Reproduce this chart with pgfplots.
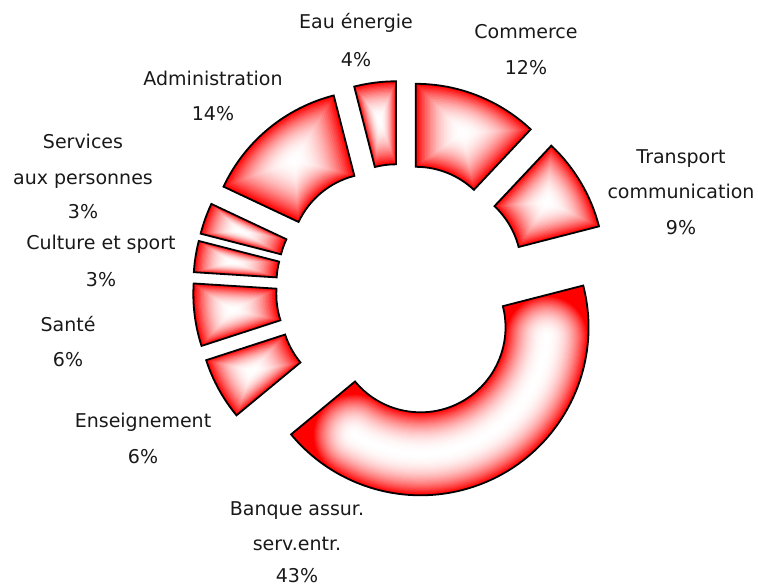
\documentclass[border=0pt]{standalone}
\usepackage{pgfplots}
\pgfplotsset{compat=1.18}
\usepackage{pgfplotstable}
\usepackage{fontspec}
\setmainfont{DejaVu Sans}
\pgfplotstableread{
value explode
12 40
9 41
43 43
6 40
6 40
3 40
3 40
14 40
4 40
}\sectors
\newcommand\lbl{\fontsize{19}{23}\selectfont}
% wedge path: apex (#1,#2), start angle #3, end angle #4, outer R #5, inner r #6, R-r #7
\newcommand\wedgepath[7]{(axis cs:#1,#2) ++(#3:#6pt) -- ++(#3:#7pt) arc[start angle=#3,end angle=#4,radius=#5pt] -- ++(#4:-#7pt) arc[start angle=#4,end angle=#3,radius=#6pt] -- cycle}
\begin{document}
\begin{tikzpicture}
\begin{axis}[width=758pt, height=587pt, scale only axis,
  xmin=0, xmax=758, ymin=0, ymax=587, hide axis, clip=false]
\addplot[draw=none] table[x expr=\coordindex, y=value] {\sectors};
\coordinate (ll) at (axis cs:0,0);
\coordinate (ur) at (axis cs:758,587);
\pgfplotsextra{
  \gdef\cum{0}
  \foreach \i in {0,...,8} {
    \pgfplotstablegetelem{\i}{value}\of\sectors \let\v\pgfplotsretval
    \pgfplotstablegetelem{\i}{explode}\of\sectors \let\d\pgfplotsretval
    \pgfmathsetmacro\aA{90-3.6*\cum}
    \pgfmathsetmacro\aB{\aA-3.6*\v}
    \pgfmathsetmacro\am{(\aA+\aB)/2}
    \pgfmathsetmacro\Ax{401+\d*cos(\am)}
    \pgfmathsetmacro\Ay{298+\d*sin(\am)}
    \pgfmathsetmacro\half{1.8*\v}
    \pgfmathsetmacro\rhoc{2/3*(1.68*1.68+1.68*0.85+0.85*0.85)/(1.68+0.85)*100*sin(\half)/rad(\half)}
    \pgfmathsetmacro\Gx{\Ax+\rhoc*cos(\am)}
    \pgfmathsetmacro\Gy{\Ay+\rhoc*sin(\am)}
    \begin{scope}
    \clip \wedgepath{\Ax}{\Ay}{\aA}{\aB}{168}{85}{83};
    \fill[red] (axis cs:0,0) rectangle (axis cs:758,587);
    \ifnum\i=2
      \pgfmathsetmacro\aAe{\aA-18.8}
      \pgfmathsetmacro\aBe{\aB+18.8}
      \foreach \k in {0,...,39} {
        \pgfmathsetmacro\s{1-\k/40}
        \pgfmathsetmacro\w{83*\s}
        \pgfmathsetmacro\pct{100*\s^2.2}
        \draw[line width=\w pt, red!\pct!white, line cap=round]
          (axis cs:\Ax,\Ay) ++(\aAe:126.5pt) arc[start angle=\aAe, end angle=\aBe, radius=126.5pt];
      }
    \else
    \foreach \k in {0,...,29} {
      \pgfmathsetmacro\s{1-\k/30}
      \pgfmathsetmacro\px{\Gx+\s*(\Ax-\Gx)}
      \pgfmathsetmacro\py{\Gy+\s*(\Ay-\Gy)}
      \pgfmathsetmacro\RR{\s*168}
      \pgfmathsetmacro\rr{\s*85}
      \pgfmathsetmacro\dd{\s*83}
      \pgfmathsetmacro\pct{100*\s^2.2}
      \fill[red!\pct!white] \wedgepath{\px}{\py}{\aA}{\aB}{\RR}{\rr}{\dd};
    }
    \fi
    \end{scope}
    \draw[line width=1.8pt, black, line join=miter] \wedgepath{\Ax}{\Ay}{\aA}{\aB}{168}{85}{83};
    \pgfmathsetmacro\newcum{\cum+\v}
    \xdef\cum{\newcum}
  }
}
\begin{scope}[every node/.style={anchor=base, font=\lbl, text=black!90, inner sep=0pt}]
\node at (axis cs:356,558) {Eau énergie};
\node at (axis cs:356,520) {4\%};
\node at (axis cs:526,548) {Commerce};
\node at (axis cs:526,512) {12\%};
\node at (axis cs:213,501) {Administration};
\node at (axis cs:213,466) {14\%};
\node at (axis cs:681,423) {Transport};
\node at (axis cs:681,388) {communication};
\node at (axis cs:681,352) {9\%};
\node at (axis cs:83,438) {Services};
\node at (axis cs:83,402) {aux personnes};
\node at (axis cs:83,368) {3\%};
\node at (axis cs:101,337) {Culture et sport};
\node at (axis cs:101,300) {3\%};
\node at (axis cs:68,255) {Santé};
\node at (axis cs:68,220) {6\%};
\node at (axis cs:143,160) {Enseignement};
\node at (axis cs:143,124) {6\%};
\node at (axis cs:297,72) {Banque assur.};
\node at (axis cs:297,37) {serv.entr.};
\node at (axis cs:297,5) {43\%};
\end{scope}
\end{axis}
\pgfresetboundingbox
\path[use as bounding box] (ll) rectangle (ur);
\end{tikzpicture}
\end{document}
